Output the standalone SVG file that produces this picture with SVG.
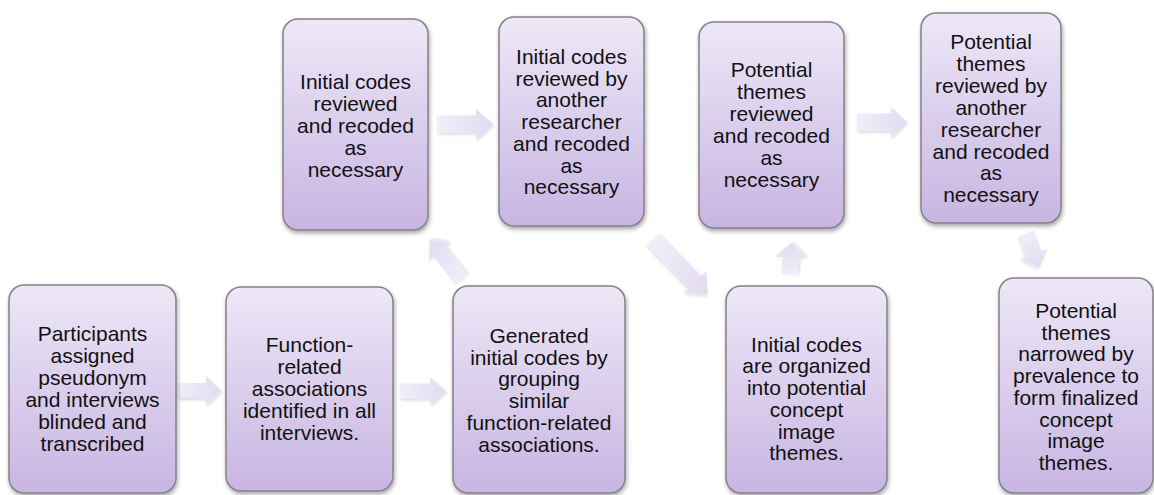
<svg xmlns="http://www.w3.org/2000/svg" width="1154" height="495" viewBox="0 0 1154 495">
<defs>
<linearGradient id="boxFill" x1="0" y1="0" x2="0" y2="1">
<stop offset="0" stop-color="#ede8f7"/>
<stop offset="1" stop-color="#c8b5e2"/>
</linearGradient>
<linearGradient id="arrFill" x1="0" y1="0" x2="1" y2="0">
<stop offset="0" stop-color="#f1eef9"/>
<stop offset="1" stop-color="#e2dbf1"/>
</linearGradient>
<filter id="shadow" x="-10%" y="-10%" width="125%" height="125%">
<feDropShadow dx="1" dy="2.5" stdDeviation="2" flood-color="#000" flood-opacity="0.35"/>
</filter>
<filter id="ashadow" x="-20%" y="-30%" width="150%" height="170%">
<feDropShadow dx="1" dy="2" stdDeviation="1.5" flood-color="#000" flood-opacity="0.15"/>
</filter>
</defs>
<style>
.box{fill:url(#boxFill);stroke:#85808c;stroke-width:1.5;filter:url(#shadow);}
.arr{fill:url(#arrFill);stroke:none;filter:url(#ashadow);}
text{font-family:"Liberation Sans",Arial,sans-serif;font-size:21px;fill:#111;text-anchor:middle;}
</style>

<g id="connectors">
<path class="arr" transform="translate(178,390.5)" d="M0,-7.5 H28 V-14.5 L43,0 L28,14.5 V7.5 H0 Z"/>
<path class="arr" transform="translate(400,391)" d="M0,-7.5 H30 V-14 L46,0 L30,14 V7.5 H0 Z"/>
<path class="arr" transform="translate(437,124)" d="M0,-8.5 H39 V-15 L56,0 L39,15 V8.5 H0 Z"/>
<path class="arr" transform="translate(857,122)" d="M0,-8.5 H34 V-15 L50,0 L34,15 V8.5 H0 Z"/>
<path class="arr" transform="translate(462,281) rotate(-128)" d="M0,-7.5 H36 V-14 L52,0 L36,14 V7.5 H0 Z"/>
<path class="arr" transform="translate(653.5,238.5) rotate(46)" d="M0,-8.5 H60 V-15.5 L78,0 L60,15.5 V8.5 H0 Z"/>
<path class="arr" transform="translate(789,275) rotate(-85)" d="M0,-8 H17 V-16 L32,0 L17,16 V8 H0 Z"/>
<path class="arr" transform="translate(1027,233) rotate(70)" d="M0,-7.5 H22 V-14 L37,0 L22,14 V7.5 H0 Z"/>
</g>

<g id="n1">
<rect class="box" x="9" y="285" width="167" height="208" rx="15"/>
<text x="92.5" y="340.7">Participants</text>
<text x="92.5" y="362.7">assigned</text>
<text x="92.5" y="384.7">pseudonym</text>
<text x="92.5" y="406.7">and interviews</text>
<text x="92.5" y="428.7">blinded and</text>
<text x="92.5" y="450.7">transcribed</text>
</g>

<g id="n2">
<rect class="box" x="226" y="287" width="167" height="204" rx="15"/>
<text x="309.5" y="351.7">Function-</text>
<text x="309.5" y="373.7">related</text>
<text x="309.5" y="395.7">associations</text>
<text x="309.5" y="417.7">identified in all</text>
<text x="309.5" y="439.7">interviews.</text>
</g>

<g id="n3">
<rect class="box" x="453" y="286" width="172" height="207" rx="15"/>
<text x="539" y="342.7">Generated</text>
<text x="539" y="364.5">initial codes by</text>
<text x="539" y="386.3">grouping</text>
<text x="539" y="408.1">similar</text>
<text x="539" y="429.9">function-related</text>
<text x="539" y="451.7">associations.</text>
</g>

<g id="n4">
<rect class="box" x="283" y="19" width="145" height="211" rx="15"/>
<text x="355.5" y="89.3">Initial codes</text>
<text x="355.5" y="111.1">reviewed</text>
<text x="355.5" y="132.9">and recoded</text>
<text x="355.5" y="154.7">as</text>
<text x="355.5" y="176.5">necessary</text>
</g>

<g id="n5">
<rect class="box" x="499" y="17" width="145" height="209" rx="15"/>
<text x="571.5" y="64">Initial codes</text>
<text x="571.5" y="85.7">reviewed by</text>
<text x="571.5" y="107.4">another</text>
<text x="571.5" y="129.1">researcher</text>
<text x="571.5" y="150.8">and recoded</text>
<text x="571.5" y="172.5">as</text>
<text x="571.5" y="194.2">necessary</text>
</g>

<g id="n6">
<rect class="box" x="699" y="22" width="145" height="206" rx="15"/>
<text x="771.5" y="77.3">Potential</text>
<text x="771.5" y="99.3">themes</text>
<text x="771.5" y="121.3">reviewed</text>
<text x="771.5" y="143.3">and recoded</text>
<text x="771.5" y="165.3">as</text>
<text x="771.5" y="187.3">necessary</text>
</g>

<g id="n7">
<rect class="box" x="921" y="13" width="140" height="210" rx="15"/>
<text x="991" y="49">Potential</text>
<text x="991" y="70.9">themes</text>
<text x="991" y="92.8">reviewed by</text>
<text x="991" y="114.7">another</text>
<text x="991" y="136.6">researcher</text>
<text x="991" y="158.5">and recoded</text>
<text x="991" y="180.4">as</text>
<text x="991" y="202.3">necessary</text>
</g>

<g id="n8">
<rect class="box" x="726" y="286" width="161" height="207" rx="15"/>
<text x="806.5" y="351.7">Initial codes</text>
<text x="806.5" y="373.4">are organized</text>
<text x="806.5" y="395.1">into potential</text>
<text x="806.5" y="416.8">concept</text>
<text x="806.5" y="438.5">image</text>
<text x="806.5" y="460.2">themes.</text>
</g>

<g id="n9">
<rect class="box" x="999" y="278" width="154" height="215" rx="15"/>
<text x="1076" y="318">Potential</text>
<text x="1076" y="339.7">themes</text>
<text x="1076" y="361.4">narrowed by</text>
<text x="1076" y="383.1">prevalence to</text>
<text x="1076" y="404.8">form finalized</text>
<text x="1076" y="426.5">concept</text>
<text x="1076" y="448.2">image</text>
<text x="1076" y="469.9">themes.</text>
</g>
</svg>
